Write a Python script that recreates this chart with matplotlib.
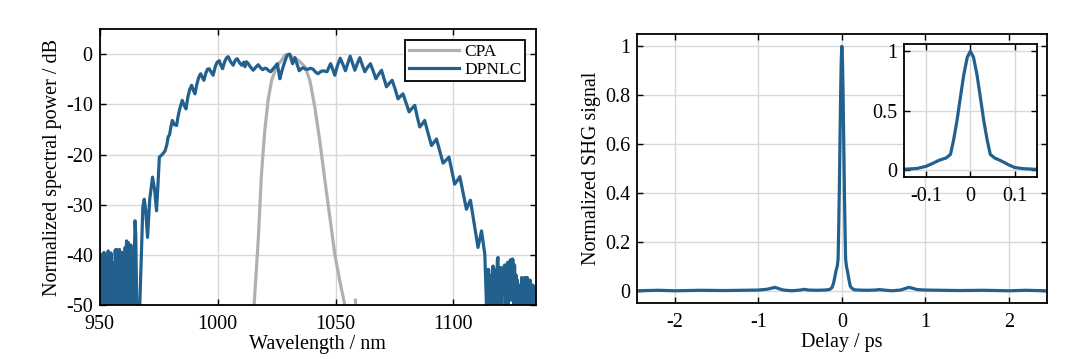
import matplotlib
matplotlib.use("Agg")
import matplotlib.pyplot as plt
from matplotlib.ticker import FormatStrFormatter

# spectrum, DPNLC (wavelength in nm, power in dB)
dpnlc_wl = [
    950.0, 950.3, 950.6, 950.9, 951.2, 951.5, 951.8, 952.1, 952.4, 952.7,
    953.0, 953.3, 953.6, 953.9, 954.2, 954.5, 954.8, 955.1, 955.4, 955.7,
    956.0, 956.3, 956.6, 956.9, 957.2, 957.5, 957.8, 958.1, 958.4, 958.7,
    959.0, 959.3, 959.6, 959.9, 960.2, 960.5, 960.8, 961.1, 961.4, 961.7,
    962.0, 962.3, 962.6, 962.9, 963.2, 963.5, 963.8, 964.1, 964.4,
    964.7, 965.0, 965.3, 965.7, 967.0, 967.8, 968.3, 968.9, 969.5, 970.3,
    971.2, 972.4, 973.3, 974.1, 974.6, 975.3, 976.5, 977.7, 978.5, 979.0,
    979.6, 980.2, 980.8, 981.6, 982.6, 983.2, 984.0, 985.0, 985.8, 986.6,
    987.4, 988.2, 989.0, 989.7, 990.4, 991.2, 992.0, 992.8, 993.5, 994.2,
    995.0, 995.7, 996.4, 997.3, 998.1, 999.0, 999.8, 1000.7, 1001.4, 1002.1,
    1003.0, 1003.8, 1004.5, 1005.5, 1006.6, 1007.5, 1008.3, 1009.3, 1010.2, 1011.1,
    1011.6, 1012.2, 1013.0, 1014.0, 1015.1, 1016.2, 1017.2, 1018.2, 1019.1, 1020.0,
    1020.8, 1021.7, 1022.5, 1023.4, 1024.3, 1025.3, 1025.9, 1026.4, 1027.1, 1027.8,
    1028.7, 1029.5, 1030.6, 1031.2, 1031.8, 1032.3, 1032.8, 1033.7, 1034.6, 1035.5,
    1036.3, 1037.4, 1038.4, 1039.4, 1040.5, 1041.6, 1042.6, 1043.6, 1044.7, 1045.6,
    1046.4, 1047.2, 1047.9, 1048.8, 1049.7, 1050.8, 1052.0, 1053.0, 1054.2, 1055.2,
    1056.2, 1057.2, 1058.2, 1059.2, 1060.3, 1061.3, 1062.4, 1063.6, 1064.8, 1066.0,
    1067.1, 1068.3, 1069.5, 1070.5, 1071.6, 1072.8, 1074.0, 1075.3, 1076.5, 1077.5,
    1078.6, 1079.9, 1081.2, 1082.4, 1083.6, 1084.6, 1085.7, 1086.8, 1087.8, 1089.2,
    1090.7, 1091.8, 1092.8, 1094.2, 1095.6, 1096.9, 1098.1, 1099.3, 1100.5, 1101.6,
    1102.7, 1104.1, 1105.5, 1106.3, 1107.2, 1108.8, 1110.4, 1111.2, 1111.9, 1113.3,
    1114.0, 1114.3, 1114.6, 1114.9, 1115.2, 1115.5, 1115.8, 1116.1, 1116.4, 1116.8,
    1117.1, 1117.4, 1117.7, 1118.0, 1118.3, 1118.6, 1118.9, 1119.2, 1119.5, 1119.8,
    1120.1, 1120.4, 1120.7, 1121.0, 1121.3, 1121.7, 1122.0, 1122.3, 1122.6, 1122.9,
    1123.2, 1123.5, 1123.8, 1124.1, 1124.4, 1124.7, 1125.0, 1125.3, 1125.6, 1125.9,
    1126.2, 1126.5, 1126.8, 1127.1, 1127.4, 1127.7, 1128.0, 1128.3, 1128.6, 1128.9,
    1129.2, 1129.5, 1129.8, 1130.1, 1130.4, 1130.7, 1131.0, 1131.3, 1131.6, 1131.9,
    1132.2, 1132.5, 1132.8, 1133.1, 1133.4, 1133.7, 1134.0, 1134.3, 1134.6, 1135.0,
]
dpnlc_db = [
    -40.5, -50, -39.9, -44, -41, -50, -39.5, -42, -40.2, -50,
    -43, -47, -39.2, -50, -40, -43.5, -39.6, -50, -41.5, -48,
    -42.6, -50, -39, -44, -38.9, -50, -40.5, -46, -38.9, -50,
    -41, -45, -39.5, -50, -40, -48, -38.5, -50, -37.2, -44,
    -37.5, -50, -39, -46, -38, -50, -41, -50, -50,
    -40, -33.2, -36, -50, -50, -38, -30.5, -28.9, -31, -36.5,
    -29, -24.5, -27, -31.2, -27, -20.5, -20, -19.3, -18, -16.5,
    -16.1, -14.5, -13.2, -14.0, -14.2, -12.5, -10.8, -9.2, -10.2, -10.9,
    -8.5, -7.0, -6.2, -7.2, -7.9, -6.0, -4.6, -3.9, -4.6, -5.2,
    -3.8, -3.0, -2.9, -3.6, -4.2, -2.5, -1.6, -1.3, -2.2, -2.9,
    -1.5, -0.7, -0.5, -1.5, -2.2, -1.2, -0.9, -1.7, -2.2, -1.6,
    -2.5, -1.5, -1.9, -2.6, -3.2, -2.6, -2.1, -2.7, -3.1, -2.8,
    -2.9, -3.3, -3.5, -3.0, -2.5, -1.9, -3.5, -4.9, -3.6, -2.5,
    -1.2, -0.2, 0.0, -1.0, -1.9, -1.2, -0.7, -2.0, -3.3, -2.9,
    -2.7, -3.0, -3.0, -2.8, -3.0, -3.6, -3.9, -3.5, -3.3, -3.4,
    -3.5, -2.6, -1.9, -3.0, -4.2, -2.3, -0.8, -1.9, -3.3, -1.8,
    -0.4, -1.8, -3.2, -1.9, -0.7, -2.1, -3.5, -2.6, -1.9, -3.4,
    -4.9, -4.0, -3.2, -4.8, -6.5, -5.8, -5.2, -7.0, -8.9, -8.4,
    -7.9, -9.7, -11.5, -10.8, -10.2, -12.4, -14.5, -13.9, -13.2, -15.7,
    -18.2, -17.5, -16.9, -19.3, -21.7, -21.1, -20.5, -23.2, -25.9, -25.2,
    -24.4, -27.7, -30.9, -30.0, -29.1, -33.8, -38.5, -36.8, -35.2, -39.9,
    -50, -43, -50, -42.9, -50, -46, -48, -44, -50, -42.2,
    -47, -45, -50, -43, -49, -41, -40.5, -50, -45, -47,
    -42.5, -50, -44, -48, -42.5, -42, -50, -43, -46, -41.5,
    -50, -42, -47, -41, -49, -41, -40.8, -41, -50, -42,
    -47, -44, -50, -45, -48, -50, -47, -46, -50, -44.5,
    -48, -50, -45, -44.5, -50, -44.5, -47, -44.5, -50, -46,
    -48, -45, -50, -47, -49, -46, -50, -47, -48, -50,
]

# spectrum, CPA
cpa_wl = [1015.4, 1017.2, 1018.6, 1020.0, 1021.4, 1022.9, 1025.0, 1027.1, 1028.5, 1029.9,
          1031.4, 1034.2, 1037.0, 1039.1, 1041.2, 1043.3, 1045.5, 1047.6, 1049.7, 1051.8,
          1053.9, 1055.0, None, 1058.4, 1058.8]
cpa_db = [-50.5, -37.2, -23.9, -15.2, -9.2, -5.2, -2.5, -1.2, -0.2, 0.0,
          -0.5, -1.2, -2.5, -5.2, -10.5, -17.2, -25.2, -32.5, -39.9, -45.2,
          -49.9, -51, None, -49.0, -51]

# autocorrelation
delay = [-2.45, -2.2, -2.0, -1.7, -1.4, -1.2, -1.0, -0.9, -0.85, -0.8,
         -0.75, -0.7, -0.6, -0.5, -0.45, -0.4, -0.3, -0.2, -0.15, -0.12,
         -0.1, -0.085, -0.07, -0.055, -0.045, -0.038, -0.03, -0.025, -0.015, -0.007,
         0.0,
         0.007, 0.015, 0.025, 0.03, 0.038, 0.045, 0.055, 0.07, 0.085, 0.1,
         0.12, 0.15, 0.2, 0.3, 0.4, 0.45, 0.5, 0.6, 0.7, 0.75,
         0.8, 0.85, 0.9, 1.0, 1.2, 1.4, 1.7, 2.0, 2.2, 2.45]
shg = [0.0, 0.002, 0.0, 0.002, 0.001, 0.002, 0.003, 0.006, 0.01, 0.014,
       0.008, 0.003, 0.0, 0.003, 0.006, 0.003, 0.002, 0.003, 0.005, 0.012,
       0.03, 0.055, 0.082, 0.1, 0.13, 0.25, 0.42, 0.55, 0.8, 0.95,
       1.0,
       0.95, 0.8, 0.55, 0.42, 0.25, 0.13, 0.1, 0.075, 0.045, 0.02,
       0.01, 0.004, 0.003, 0.002, 0.003, 0.005, 0.003, 0.0, 0.003, 0.008,
       0.014, 0.01, 0.005, 0.003, 0.002, 0.001, 0.002, 0.0, 0.002, 0.0]

blue = "#22618d"
gray = "#b0b0b0"

plt.rcParams['font.family'] = ['Liberation Serif', 'DejaVu Serif']
plt.rcParams['font.size'] = 14.5
plt.rcParams['axes.unicode_minus'] = False


def style_axes(ax):
    ax.grid(True, color="#d8d8d8", linewidth=1.0)
    ax.set_axisbelow(True)
    ax.tick_params(direction="in", top=True, right=True, length=4, width=1.0)
    ax.tick_params(axis="x", pad=7)
    ax.tick_params(axis="y", pad=5)
    for s in ax.spines.values():
        s.set_linewidth(1.3)


fig = plt.figure(figsize=(10.8, 3.59), dpi=100)

# left panel: spectra
ax1 = fig.add_axes([0.0923, 0.150, 0.404, 0.769])
wl_c = [w if w is not None else float("nan") for w in cpa_wl]
db_c = [d if d is not None else float("nan") for d in cpa_db]
ax1.plot(wl_c, db_c, color=gray, lw=2.3, label="CPA")
ax1.plot(dpnlc_wl, dpnlc_db, color=blue, lw=2.3, label="DPNLC")
ax1.set_xlim(950, 1135)
ax1.set_ylim(-50, 5)
ax1.set_xticks([950, 1000, 1050, 1100])
ax1.set_yticks([-50, -40, -30, -20, -10, 0])
ax1.set_xlabel("Wavelength / nm", labelpad=1)
ax1.set_ylabel("Normalized spectral power / dB", labelpad=3)
style_axes(ax1)
leg = ax1.legend(loc="upper right", bbox_to_anchor=(0.975, 0.96), handlelength=2.9,
                 fontsize=12.5, fancybox=False, framealpha=1, borderpad=0.2,
                 labelspacing=0.1, handletextpad=0.3, borderaxespad=0)
leg.get_frame().set_edgecolor("black")
leg.get_frame().set_linewidth(1.3)

# right panel: autocorrelation
ax2 = fig.add_axes([0.590, 0.156, 0.379, 0.749])
ax2.plot(delay, shg, color=blue, lw=2.3)
ax2.set_xlim(-2.45, 2.45)
ax2.set_ylim(-0.05, 1.05)
ax2.set_xticks([-2, -1, 0, 1, 2])
ax2.set_yticks([0, 0.2, 0.4, 0.6, 0.8, 1])
ax2.xaxis.set_major_formatter(FormatStrFormatter('%g'))
ax2.yaxis.set_major_formatter(FormatStrFormatter('%g'))
ax2.set_xlabel("Delay / ps", labelpad=1)
ax2.set_ylabel("Normalized SHG signal", labelpad=3)
style_axes(ax2)

# inset: zoom around zero delay
ax3 = fig.add_axes([0.837, 0.507, 0.123, 0.370])
ax3.plot(delay, shg, color=blue, lw=2.3)
ax3.set_xlim(-0.15, 0.15)
ax3.set_ylim(-0.06, 1.06)
ax3.set_xticks([-0.1, 0, 0.1])
ax3.set_yticks([0, 0.5, 1])
ax3.xaxis.set_major_formatter(FormatStrFormatter('%g'))
ax3.yaxis.set_major_formatter(FormatStrFormatter('%g'))
style_axes(ax3)

fig.savefig("out.png", dpi=100)
